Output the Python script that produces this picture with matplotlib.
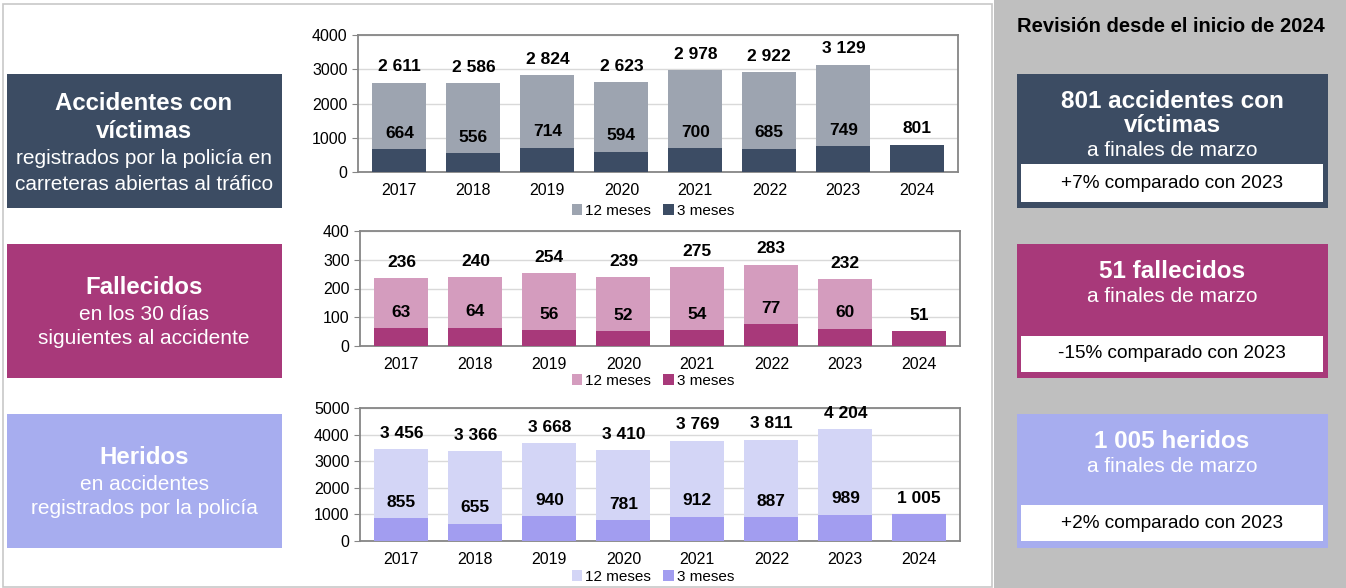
import numpy as np
import matplotlib.pyplot as plt
from matplotlib.patches import Rectangle

plt.rcParams['font.family'] = ['Liberation Sans', 'DejaVu Sans']

years = ['2017', '2018', '2019', '2020', '2021', '2022', '2023', '2024']

acc_12 = [2611, 2586, 2824, 2623, 2978, 2922, 3129, np.nan]
acc_3 = [664, 556, 714, 594, 700, 685, 749, 801]
fal_12 = [236, 240, 254, 239, 275, 283, 232, np.nan]
fal_3 = [63, 64, 56, 52, 54, 77, 60, 51]
her_12 = [3456, 3366, 3668, 3410, 3769, 3811, 4204, np.nan]
her_3 = [855, 655, 940, 781, 912, 887, 989, 1005]

legend_labels = ['12 meses', '3 meses']

W, H = 1346, 588
fig = plt.figure(figsize=(W / 100, H / 100), dpi=100)

# background layer in pixel coordinates
bg = fig.add_axes([0, 0, 1, 1])
bg.set_xlim(0, W)
bg.set_ylim(H, 0)
bg.axis('off')

bg.add_patch(Rectangle((3, 4), 989, 583, fill=False, ec='#C8C8C8', lw=1.2))
bg.add_patch(Rectangle((994, 0), W - 994, H, fc='#BFBFBF', ec='none'))
bg.text(1171, 27, 'Revisión desde el inicio de 2024', ha='center', va='center',
        fontsize=14.5, fontweight='bold', color='black')

box_cols = ['#3C4C63', '#A8397A', '#A7ADEF']
tops = [74, 244, 414]

left_texts = [
    [('Accidentes con', 103, True), ('víctimas', 131, True),
     ('registrados por la policía en', 158, False),
     ('carreteras abiertas al tráfico', 184, False)],
    [('Fallecidos', 288, True), ('en los 30 días', 315, False),
     ('siguientes al accidente', 338, False)],
    [('Heridos', 458, True), ('en accidentes', 485, False),
     ('registrados por la policía', 508, False)],
]
right_texts = [
    [('801 accidentes con', 101, True), ('víctimas', 125, True),
     ('a finales de marzo', 150, False)],
    [('51 fallecidos', 271, True), ('a finales de marzo', 296, False)],
    [('1 005 heridos', 441, True), ('a finales de marzo', 466, False)],
]
compare = ['+7% comparado con 2023', '-15% comparado con 2023', '+2% comparado con 2023']
white_boxes = [(164, 202), (336, 372), (505, 541)]

for i in range(3):
    t = tops[i]
    bg.add_patch(Rectangle((7, t), 275, 134, fc=box_cols[i], ec='none'))
    bg.add_patch(Rectangle((1017, t), 311, 134, fc=box_cols[i], ec='none'))
    for s, y, b in left_texts[i]:
        bg.text(144, y, s, ha='center', va='center', color='white',
                fontsize=17.3 if b else 15, fontweight='bold' if b else 'normal')
    for s, y, b in right_texts[i]:
        bg.text(1172, y, s, ha='center', va='center', color='white',
                fontsize=17.5 if b else 15, fontweight='bold' if b else 'normal')
    y0, y1 = white_boxes[i]
    bg.add_patch(Rectangle((1021, y0), 302, y1 - y0, fc='white', ec='none'))
    bg.text(1172, (y0 + y1) / 2, compare[i], ha='center', va='center',
            fontsize=13.7, color='black')


def px_axes(x0, y0, x1, y1):
    return fig.add_axes([x0 / W, 1 - y1 / H, (x1 - x0) / W, (y1 - y0) / H])


def bar_chart(ax, v12, v3, c_light, c_dark, ymax, step, leg_y):
    x = np.arange(len(years))
    ax.bar(x, v12, width=0.73, color=c_light, zorder=2, label=legend_labels[0])
    ax.bar(x, v3, width=0.73, color=c_dark, zorder=3, label=legend_labels[1])
    for xi, a, b in zip(x, v12, v3):
        if not np.isnan(a):
            ax.annotate(f'{int(a):,}'.replace(',', ' '), (xi, a), xytext=(0, 6),
                        textcoords='offset points', ha='center', va='bottom',
                        fontsize=12.5, fontweight='bold')
        ax.annotate(f'{int(b):,}'.replace(',', ' '), (xi, b), xytext=(0, 6),
                    textcoords='offset points', ha='center', va='bottom',
                    fontsize=12.5, fontweight='bold', zorder=5)
    ax.set_xlim(-0.56, 7.55)
    ax.set_ylim(0, ymax)
    ax.set_yticks(np.arange(0, ymax + 1, step))
    ax.set_xticks(x)
    ax.set_xticklabels(years)
    ax.tick_params(axis='x', length=0, labelsize=11.5, pad=8)
    ax.tick_params(axis='y', length=4, labelsize=11.5, color='#868686')
    ax.yaxis.grid(True, color='#D9D9D9', lw=1, zorder=0)
    ax.set_axisbelow(True)
    for sp in ax.spines.values():
        sp.set_color('#868686')
        sp.set_linewidth(1.3)
    ax.legend(loc='center', bbox_to_anchor=(653 / W, 1 - leg_y / H),
              bbox_transform=fig.transFigure, ncol=2, frameon=False,
              fontsize=11, handlelength=0.7, handleheight=0.7, handletextpad=0.2,
              columnspacing=0.8, borderpad=0)


ax1 = px_axes(358, 35, 958, 172)
bar_chart(ax1, acc_12, acc_3, '#9DA4B0', '#3C4C64', 4000, 1000, 211)

ax2 = px_axes(360, 231, 960, 346)
bar_chart(ax2, fal_12, fal_3, '#D49CBE', '#A8397A', 400, 100, 381)

ax3 = px_axes(360, 408, 960, 541)
bar_chart(ax3, her_12, her_3, '#D3D5F6', '#A29DF0', 5000, 1000, 577)

fig.savefig('out.png', dpi=100)
